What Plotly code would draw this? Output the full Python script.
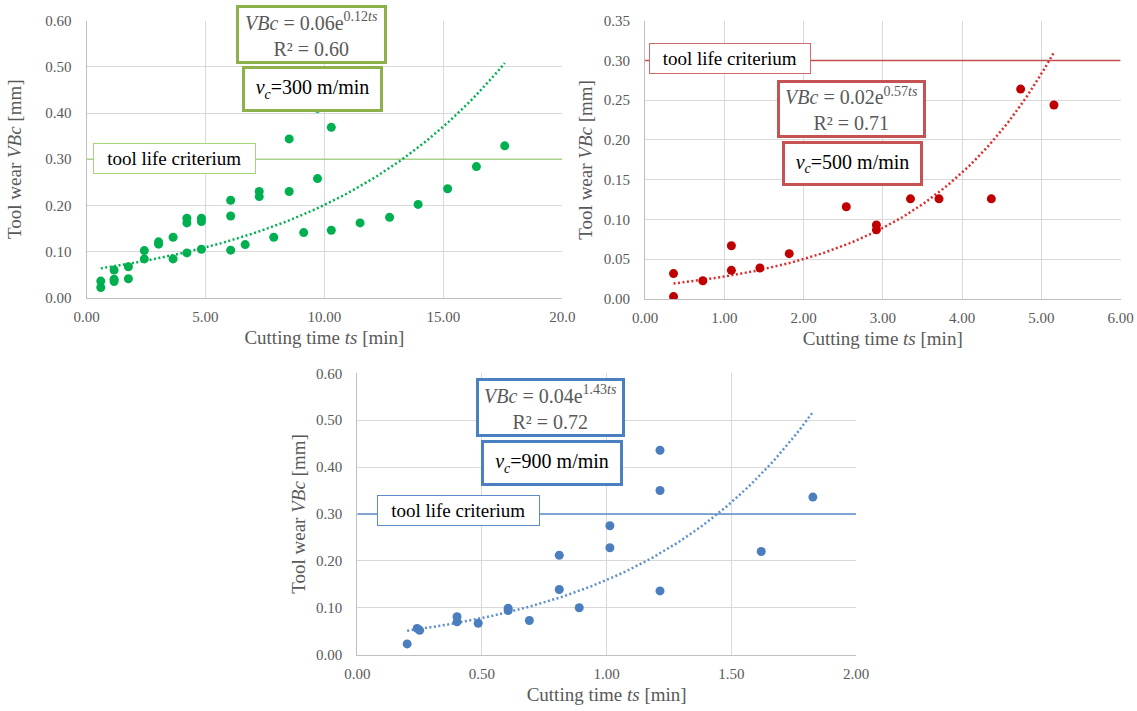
import numpy as np
import plotly.graph_objects as go

W, H = 1137, 711

# ---------------- data ----------------
# Panel 1: vc = 300 m/min
t300 = [0.6, 0.6, 1.16, 1.16, 1.16, 1.76, 1.76, 2.43, 2.43, 3.03, 3.03, 3.64, 3.64,
        4.22, 4.22, 4.22, 4.83, 4.83, 4.83, 6.06, 6.06, 6.06, 6.67, 7.26, 7.26, 7.87,
        8.52, 8.52, 9.13, 9.71, 9.71, 10.29, 10.29, 11.5, 12.74, 13.94, 15.18, 16.39, 17.58]
vb300 = [0.036, 0.022, 0.060, 0.040, 0.035, 0.067, 0.041, 0.102, 0.084, 0.121, 0.116, 0.131, 0.084,
         0.172, 0.162, 0.097, 0.172, 0.165, 0.105, 0.211, 0.177, 0.103, 0.115, 0.230, 0.219, 0.131,
         0.344, 0.230, 0.141, 0.258, 0.410, 0.369, 0.146, 0.162, 0.174, 0.202, 0.236, 0.284, 0.329]
# Panel 2: vc = 500 m/min
t500 = [0.36, 0.36, 0.73, 1.09, 1.09, 1.45, 1.82, 2.54, 2.92, 2.92, 3.35, 3.71, 4.37, 4.74, 5.16]
vb500 = [0.032, 0.003, 0.023, 0.067, 0.036, 0.039, 0.057, 0.116, 0.093, 0.087, 0.126, 0.126, 0.126, 0.264, 0.244]
# Panel 3: vc = 900 m/min
t900 = [0.20, 0.24, 0.25, 0.40, 0.40, 0.485, 0.605, 0.605, 0.69, 0.81, 0.81, 0.89,
        1.013, 1.013, 1.214, 1.214, 1.214, 1.62, 1.827]
vb900 = [0.023, 0.056, 0.052, 0.081, 0.070, 0.067, 0.099, 0.094, 0.073, 0.212, 0.139, 0.100,
         0.275, 0.228, 0.436, 0.350, 0.136, 0.220, 0.336]

# exponential trendline parameters VBc = a*exp(b*ts) (as plotted)
trend300 = (0.059, 0.1225)
trend500 = (0.0158, 0.577)
trend900 = (0.0383, 1.425)

tool_life = 0.30

eq_texts = ["<i>VBc</i> = 0.06e<sup>0.12<i>ts</i></sup><br>R² = 0.60",
            "<i>VBc</i> = 0.02e<sup>0.57<i>ts</i></sup><br>R² = 0.71",
            "<i>VBc</i> = 0.04e<sup>1.43<i>ts</i></sup><br>R² = 0.72"]
vc_texts = ["<i>v<sub>c</sub></i>=300 m/min",
            "<i>v<sub>c</sub></i>=500 m/min",
            "<i>v<sub>c</sub></i>=900 m/min"]

x_ticks = [[0, 5, 10, 15, 20], [0, 1, 2, 3, 4, 5, 6], [0, 0.5, 1.0, 1.5, 2.0]]
x_ticktext = [["0.00", "5.00", "10.00", "15.00", "20.0"],
              ["0.00", "1.00", "2.00", "3.00", "4.00", "5.00", "6.00"],
              ["0.00", "0.50", "1.00", "1.50", "2.00"]]
y_ticks = [[0, 0.1, 0.2, 0.3, 0.4, 0.5, 0.6],
           [0, 0.05, 0.1, 0.15, 0.2, 0.25, 0.3, 0.35],
           [0, 0.1, 0.2, 0.3, 0.4, 0.5, 0.6]]

# ---------------- styling ----------------
SERIF = "Liberation Serif"
GRAY = "#595959"
marker_cols = ["#00b050", "#c00000", "#4a7ebf"]
trend_cols = ["#00b050", "#e02a2a", "#5b8fd0"]
line_cols = ["#a9d18e", "#c0504d", "#5b8cc8"]
thinbox_cols = ["#a8d47c", "#d06a6a", "#5b8cc8"]
thick_cols = ["#8db04b", "#c65353", "#4a7fc0"]

def px_x(p):
    return p / W

def px_y(p):
    return 1 - p / H

domains = [
    ((86.5, 562.3), (20.7, 297.7)),
    ((645, 1120.5), (20.7, 299)),
    ((357.3, 856), (373.3, 654.7)),
]
ytitle_standoff = [18, 6, 5]
x_ranges = [[0, 20], [0, 6], [0, 2]]
y_ranges = [[0, 0.6], [0, 0.35], [0, 0.6]]

data_sets = [(t300, vb300, trend300), (t500, vb500, trend500), (t900, vb900, trend900)]

fig = go.Figure()

for i, (tx, vy, (a, b)) in enumerate(data_sets):
    xa = "x" if i == 0 else f"x{i+1}"
    ya = "y" if i == 0 else f"y{i+1}"
    fig.add_trace(go.Scatter(x=x_ranges[i], y=[tool_life, tool_life], mode="lines",
                             line=dict(color=line_cols[i], width=1.5),
                             xaxis=xa, yaxis=ya, hoverinfo="skip"))
    tt = np.linspace(min(tx), max(tx), 120)
    fig.add_trace(go.Scatter(x=tt, y=a * np.exp(b * tt), mode="lines",
                             line=dict(color=trend_cols[i], width=2.5, dash="2px,2.5px"),
                             xaxis=xa, yaxis=ya, hoverinfo="skip"))
    fig.add_trace(go.Scatter(x=tx, y=vy, mode="markers",
                             marker=dict(color=marker_cols[i], size=9),
                             xaxis=xa, yaxis=ya))

layout = dict(width=W, height=H, margin=dict(l=0, r=0, t=0, b=0, autoexpand=False),
              paper_bgcolor="white", plot_bgcolor="white", showlegend=False,
              font=dict(family=SERIF))

for i in range(3):
    (xl, xr), (yt, yb) = domains[i]
    xkey = "xaxis" if i == 0 else f"xaxis{i+1}"
    ykey = "yaxis" if i == 0 else f"yaxis{i+1}"
    xa = "x" if i == 0 else f"x{i+1}"
    ya = "y" if i == 0 else f"y{i+1}"
    layout[xkey] = dict(domain=[px_x(xl), px_x(xr)], range=x_ranges[i], anchor=ya,
                        tickvals=x_ticks[i], ticktext=x_ticktext[i], ticks="",
                        showgrid=True, gridcolor="#d9d9d9", gridwidth=1,
                        showline=True, linecolor="#bfbfbf", linewidth=1, zeroline=False,
                        automargin=False, ticklabelstandoff=5,
                        tickfont=dict(family=SERIF, size=15, color=GRAY),
                        title=dict(text="Cutting time <i>ts</i> [min]", standoff=6,
                                   font=dict(family=SERIF, size=19, color=GRAY)))
    layout[ykey] = dict(domain=[px_y(yb), px_y(yt)], range=y_ranges[i], anchor=xa,
                        tickvals=y_ticks[i], tickformat=".2f", ticks="",
                        showgrid=True, gridcolor="#d9d9d9", gridwidth=1,
                        showline=True, linecolor="#bfbfbf", linewidth=1, zeroline=False,
                        automargin=False, ticklabelstandoff=11,
                        tickfont=dict(family=SERIF, size=15, color=GRAY),
                        title=dict(text="Tool wear <i>VBc</i> [mm]", standoff=ytitle_standoff[i],
                                   font=dict(family=SERIF, size=19, color=GRAY)))

fig.update_layout(**layout)

# boxes: (center x, center y, width, height) in pixels
eq_boxes = [(311, 35, 148, 56), (851.4, 109.2, 146, 55), (550.6, 407, 146, 56)]
vc_boxes = [(312.4, 89.5, 138, 43), (852.1, 163.5, 138, 42), (551.7, 462.5, 139, 43)]
tl_boxes = [(174.5, 159, 161.5, 30), (729.8, 58.7, 160.5, 30), (458, 510.7, 161.5, 30)]

for i in range(3):
    cx, cy, w, h = eq_boxes[i]
    fig.add_annotation(x=px_x(cx), y=px_y(cy), xref="paper", yref="paper",
                       text=eq_texts[i], showarrow=False, align="center",
                       font=dict(family=SERIF, size=20, color=GRAY),
                       bgcolor="white", bordercolor=thick_cols[i], borderwidth=3,
                       borderpad=0, width=w - 3, height=h - 3,
                       xanchor="center", yanchor="middle")
    cx, cy, w, h = vc_boxes[i]
    fig.add_annotation(x=px_x(cx), y=px_y(cy), xref="paper", yref="paper",
                       text=vc_texts[i], showarrow=False, align="center",
                       font=dict(family=SERIF, size=20, color="black"),
                       bgcolor="white", bordercolor=thick_cols[i], borderwidth=3,
                       borderpad=0, width=w - 3, height=h - 3,
                       xanchor="center", yanchor="middle")
    cx, cy, w, h = tl_boxes[i]
    fig.add_annotation(x=px_x(cx), y=px_y(cy), xref="paper", yref="paper",
                       text="tool life criterium", showarrow=False, align="center",
                       font=dict(family=SERIF, size=19, color="black"),
                       bgcolor="white", bordercolor=thinbox_cols[i], borderwidth=1,
                       borderpad=0, width=w - 1, height=h - 1,
                       xanchor="center", yanchor="middle")

fig.write_html("out.html", config={"displayModeBar": False},
               post_script="document.body.style.margin='0px';")
